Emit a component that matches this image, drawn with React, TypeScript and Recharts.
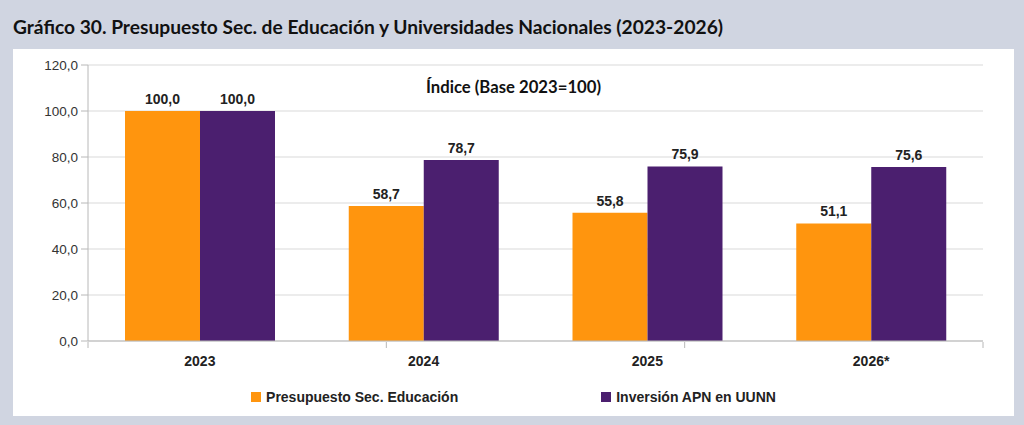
import React from 'react';
import { BarChart, Bar, XAxis, YAxis, CartesianGrid, Legend, LabelList } from 'recharts';

const categories = ['2023', '2024', '2025', '2026*'];
const educacion = [100.0, 58.7, 55.8, 51.1];
const uunn = [100.0, 78.7, 75.9, 75.6];
const yTicks = [0, 20, 40, 60, 80, 100, 120];
const boundaryTicks = [0, 1, 2, 3, 4];
const seriesNames = ['Presupuesto Sec. Educación', 'Inversión APN en UUNN'];
const colors = ['#FF950E', '#4B1F6F'];

const data = categories.map((c, i) => ({ cat: c, edu: educacion[i], uunn: uunn[i] }));

const fmt = (v: number) => v.toFixed(1).replace('.', ',');
const FONT = '"Liberation Sans", Arial, sans-serif';
const AXIS = '#b8b8b8';

const LegendContent = () => (
  <div style={{ display: 'flex', justifyContent: 'center', gap: 143, fontFamily: FONT, fontWeight: 'bold', fontSize: 14, color: '#222', height: 20, alignItems: 'center' }}>
    {seriesNames.map((n, i) => (
      <div key={n} style={{ display: 'flex', alignItems: 'center' }}>
        <span style={{ display: 'inline-block', width: 10, height: 10, background: colors[i], marginRight: 5 }} />
        <span>{n}</span>
      </div>
    ))}
  </div>
);

const EmptyTick = () => <g />;

export default function App() {
  return (
    <div style={{ position: 'fixed', left: 0, top: 0, width: 1024, height: 425, background: '#d0d5e1', overflow: 'hidden' }}>
      <div style={{ position: 'absolute', left: 13, top: 17, fontFamily: 'Lato, sans-serif', fontWeight: 700, fontSize: 19.2, lineHeight: '20px', color: '#111', whiteSpace: 'nowrap' }}>
        Gráfico 30. Presupuesto Sec. de Educación y Universidades Nacionales (2023-2026)
      </div>
      <div style={{ position: 'absolute', left: 13, top: 49, width: 1001, height: 367, background: '#fff' }}>
        <BarChart width={1001} height={367} data={data} margin={{ top: 16, right: 31, left: 0, bottom: 25 }} barCategoryGap={37} barGap={0}>
          <CartesianGrid vertical={false} stroke="#d9d9d9" xAxisId="cat" yAxisId="l" />
          <XAxis xAxisId="grid" type="number" domain={[0, 4]} ticks={boundaryTicks} allowDataOverflow height={29} tick={<EmptyTick />} axisLine={false} tickSize={6} tickLine={{ stroke: AXIS }} interval={0} />
          <XAxis xAxisId="cat" dataKey="cat" height={1} tickLine={false} axisLine={{ stroke: AXIS }} tickMargin={9} tick={{ fill: '#222', fontFamily: FONT, fontWeight: 'bold', fontSize: 14 }} />
          <YAxis yAxisId="l" domain={[0, 120]} ticks={yTicks} width={75} tickSize={7} tickMargin={3} tickFormatter={fmt} axisLine={{ stroke: AXIS }} tickLine={{ stroke: AXIS }} tick={{ fill: '#333', fontFamily: FONT, fontSize: 13.5 }} />
          <YAxis yAxisId="r" orientation="right" domain={[0, 120]} width={0} tick={false} tickLine={false} axisLine={{ stroke: '#d0d0d0' }} />
          <Legend verticalAlign="bottom" content={<LegendContent />} wrapperStyle={{ bottom: 9, left: 0, width: 1001 }} />
          <Bar xAxisId="cat" yAxisId="l" dataKey="edu" name={seriesNames[0]} fill={colors[0]} isAnimationActive={false}>
            <LabelList dataKey="edu" position="top" offset={7} formatter={(v: any) => fmt(Number(v))} style={{ fill: '#222', fontFamily: FONT, fontWeight: 'bold', fontSize: 14 }} />
          </Bar>
          <Bar xAxisId="cat" yAxisId="l" dataKey="uunn" name={seriesNames[1]} fill={colors[1]} isAnimationActive={false}>
            <LabelList dataKey="uunn" position="top" offset={7} formatter={(v: any) => fmt(Number(v))} style={{ fill: '#222', fontFamily: FONT, fontWeight: 'bold', fontSize: 14 }} />
          </Bar>
        </BarChart>
        <div style={{ position: 'absolute', left: 0, top: 28, width: 1001, textAlign: 'center', fontFamily: 'Lato, sans-serif', fontWeight: 700, fontSize: 16.7, lineHeight: '20px', color: '#111', whiteSpace: 'nowrap' }}>
          Índice (Base 2023=100)
        </div>
      </div>
    </div>
  );
}
